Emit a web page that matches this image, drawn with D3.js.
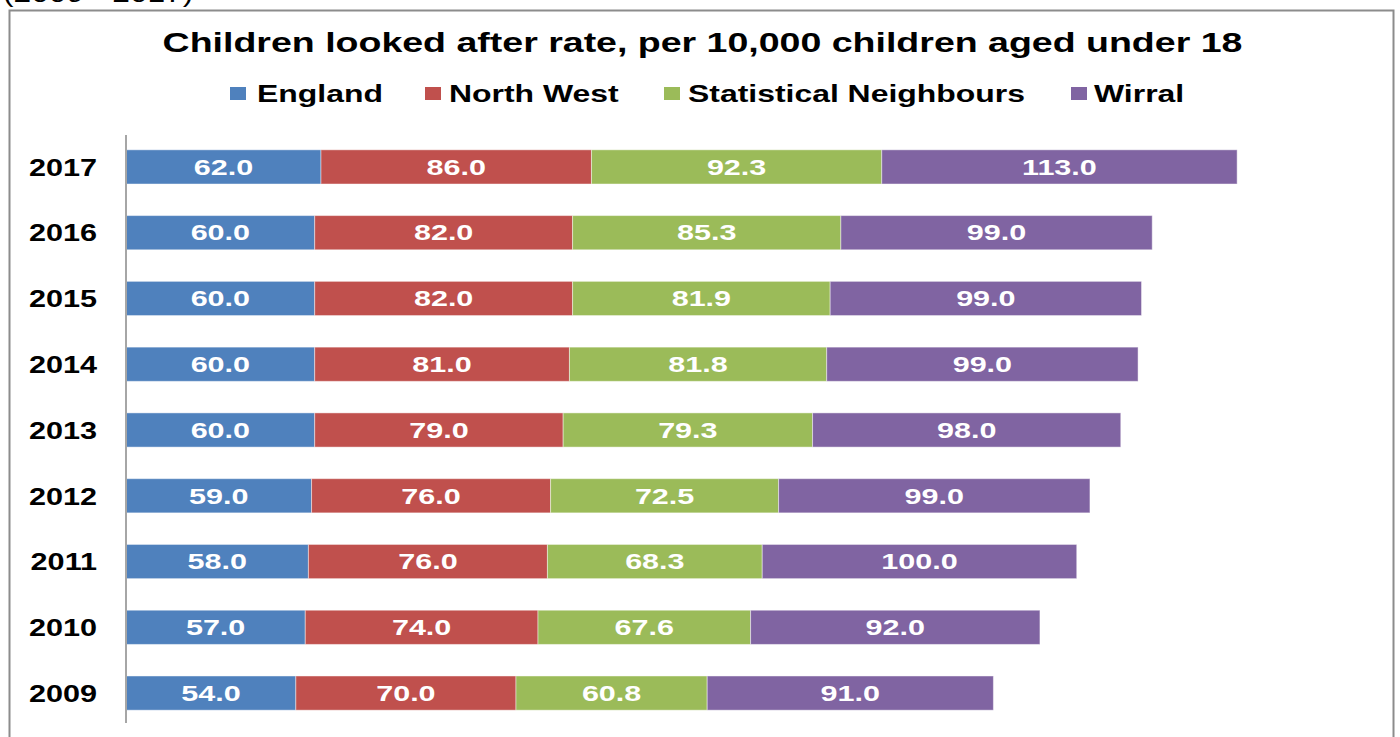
<!DOCTYPE html>
<html>
<head>
<meta charset="utf-8">
<script src="https://cdn.jsdelivr.net/npm/d3@7"></script>
<style>
  html, body { margin: 0; padding: 0; background: #fff; }
  svg { display: block; font-family: "Liberation Sans", Arial, sans-serif; }
</style>
</head>
<body>
<svg id="chart" width="1400" height="737"></svg>
<script>
// Looked-after children rate per 10,000 under-18s, by year
const years = ["2017", "2016", "2015", "2014", "2013", "2012", "2011", "2010", "2009"];
const seriesNames = ["England", "North West", "Statistical Neighbours", "Wirral"];
const england = [62.0, 60.0, 60.0, 60.0, 60.0, 59.0, 58.0, 57.0, 54.0];
const northWest = [86.0, 82.0, 82.0, 81.0, 79.0, 76.0, 76.0, 74.0, 70.0];
const statNeighbours = [92.3, 85.3, 81.9, 81.8, 79.3, 72.5, 68.3, 67.6, 60.8];
const wirral = [113.0, 99.0, 99.0, 99.0, 98.0, 99.0, 100.0, 92.0, 91.0];
const colors = ["#4F81BD", "#C0504D", "#9BBB59", "#8064A2"];

const rows = years.map((y, i) => ({
  year: y,
  "England": england[i],
  "North West": northWest[i],
  "Statistical Neighbours": statNeighbours[i],
  "Wirral": wirral[i]
}));

const svg = d3.select("#chart");

// helper: text drawn with a wide (horizontally stretched) face
function wideText(sel, x, y, sx) {
  return sel.attr("x", 0).attr("y", 0)
    .attr("transform", `translate(${x},${y}) scale(${sx},1)`);
}

// subtitle cut off above the frame
wideText(svg.append("text"), 3, 2, 1.22)
  .attr("font-size", 26)
  .attr("fill", "#000")
  .text("(2009 - 2017)");

// chart frame
svg.append("rect")
  .attr("x", 9.5).attr("y", 10.5)
  .attr("width", 1384).attr("height", 760)
  .attr("fill", "#fff")
  .attr("stroke", "#8c8c8c")
  .attr("stroke-width", 2);

wideText(svg.append("text"), 702.5, 52, 1.34)
  .attr("text-anchor", "middle")
  .attr("font-size", 28)
  .attr("font-weight", "bold")
  .text("Children looked after rate, per 10,000 children aged under 18");

// legend
const legendX = [230, 425, 664, 1071];
const legendTextX = [257, 449, 688, 1094];
const legend = svg.append("g");
seriesNames.forEach((name, i) => {
  legend.append("rect")
    .attr("x", legendX[i]).attr("y", 87)
    .attr("width", 16).attr("height", 13)
    .attr("fill", colors[i]);
  wideText(legend.append("text"), legendTextX[i], 101.5, 1.37)
    .attr("font-size", 23.3)
    .attr("font-weight", "bold")
    .text(name);
});

const x = d3.scaleLinear().domain([0, 400]).range([126, 1384]);
const y = d3.scaleBand().domain(years).range([136, 724]).paddingInner(0.48).paddingOuter(0.21);

const stack = d3.stack().keys(seriesNames);
const layers = stack(rows);

const g = svg.append("g");
layers.forEach((layer, si) => {
  const lg = g.append("g");
  lg.selectAll("rect")
    .data(layer)
    .join("rect")
    .attr("x", d => x(d[0]))
    .attr("y", d => y(d.data.year))
    .attr("width", d => x(d[1]) - x(d[0]))
    .attr("height", y.bandwidth())
    .attr("fill", colors[si])
    .attr("stroke", "rgba(255,255,255,0.45)")
    .attr("stroke-width", 1);
  lg.selectAll("text")
    .data(layer)
    .join("text")
    .each(function (d) {
      wideText(d3.select(this), (x(d[0]) + x(d[1])) / 2, y(d.data.year) + y.bandwidth() / 2 + 7.8, 1.42);
    })
    .attr("text-anchor", "middle")
    .attr("font-size", 21.5)
    .attr("font-weight", "bold")
    .attr("fill", "#fff")
    .text(d => (d[1] - d[0]).toFixed(1));
});

// category axis
const axis = d3.axisLeft(y).tickSize(0).tickPadding(0);
const ax = svg.append("g").attr("transform", "translate(126,0)").call(axis);
ax.select(".domain").attr("stroke", "#a6a6a6").attr("stroke-width", 2)
  .attr("d", "M0,135V723");
ax.selectAll(".tick text")
  .attr("dy", null)
  .each(function () { wideText(d3.select(this), -29, 8.8, 1.24); })
  .attr("text-anchor", "end")
  .attr("font-size", 24.7)
  .attr("font-weight", "bold")
  .attr("fill", "#000")
  .attr("font-family", "Liberation Sans, Arial, sans-serif");
</script>
</body>
</html>
